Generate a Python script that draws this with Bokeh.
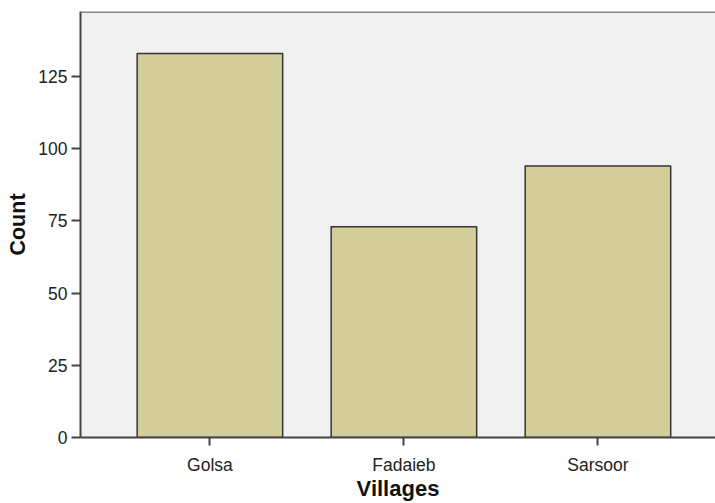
from bokeh.plotting import figure
from bokeh.models import ColumnDataSource, Range1d, FixedTicker, Span
from bokeh.embed import file_html
from bokeh.resources import INLINE

villages = ["Golsa", "Fadaieb", "Sarsoor"]
counts = [133, 73, 94]
y_ticks = [0, 25, 50, 75, 100, 125]

xpos = [i + 0.5 for i in range(len(villages))]
src = ColumnDataSource(dict(x=xpos, top=counts, name=villages))

p = figure(width=715, height=503, output_backend="svg", toolbar_location=None,
           x_range=Range1d(-0.167, 3.106), y_range=Range1d(0, 147.5),
           min_border_left=80, min_border_top=11, min_border_right=0, min_border_bottom=66,
           background_fill_color="#f0f0f0", border_fill_color="white")
p.outline_line_color = None
p.grid.visible = False

p.vbar(x="x", top="top", width=0.75, source=src, fill_color="#d3ce99",
       line_color="#333333", line_width=1.5)

p.add_layout(Span(location=147.5, dimension="width", line_color="#8a8a8a", line_width=3))

p.xaxis.ticker = FixedTicker(ticks=xpos)
p.xaxis.major_label_overrides = {x: v for x, v in zip(xpos, villages)}
p.yaxis.ticker = FixedTicker(ticks=y_ticks)

for ax in (p.xaxis[0], p.yaxis[0]):
    ax.axis_line_color = "#444444"
    ax.axis_line_width = 2
    ax.major_tick_line_color = "#444444"
    ax.major_tick_line_width = 2
    ax.major_tick_in = 0
    ax.minor_tick_line_color = None
    ax.major_label_text_font = "Liberation Sans"
    ax.major_label_text_font_size = "17.5px"
    ax.major_label_text_color = "#222222"
    ax.axis_label_text_font = "Liberation Sans"
    ax.axis_label_text_font_style = "bold"
    ax.axis_label_text_color = "#111111"

p.xaxis.axis_label = "Villages"
p.yaxis.axis_label = "Count"
p.xaxis.axis_label_text_font_size = "22px"
p.yaxis.axis_label_text_font_size = "21.5px"
p.xaxis.major_tick_out = 8
p.yaxis.major_tick_out = 9
p.xaxis.major_label_standoff = 9
p.yaxis.major_label_standoff = 4
p.xaxis.axis_label_standoff = -2
p.yaxis.axis_label_standoff = 5

open("out.html", "w").write(file_html(p, INLINE))
